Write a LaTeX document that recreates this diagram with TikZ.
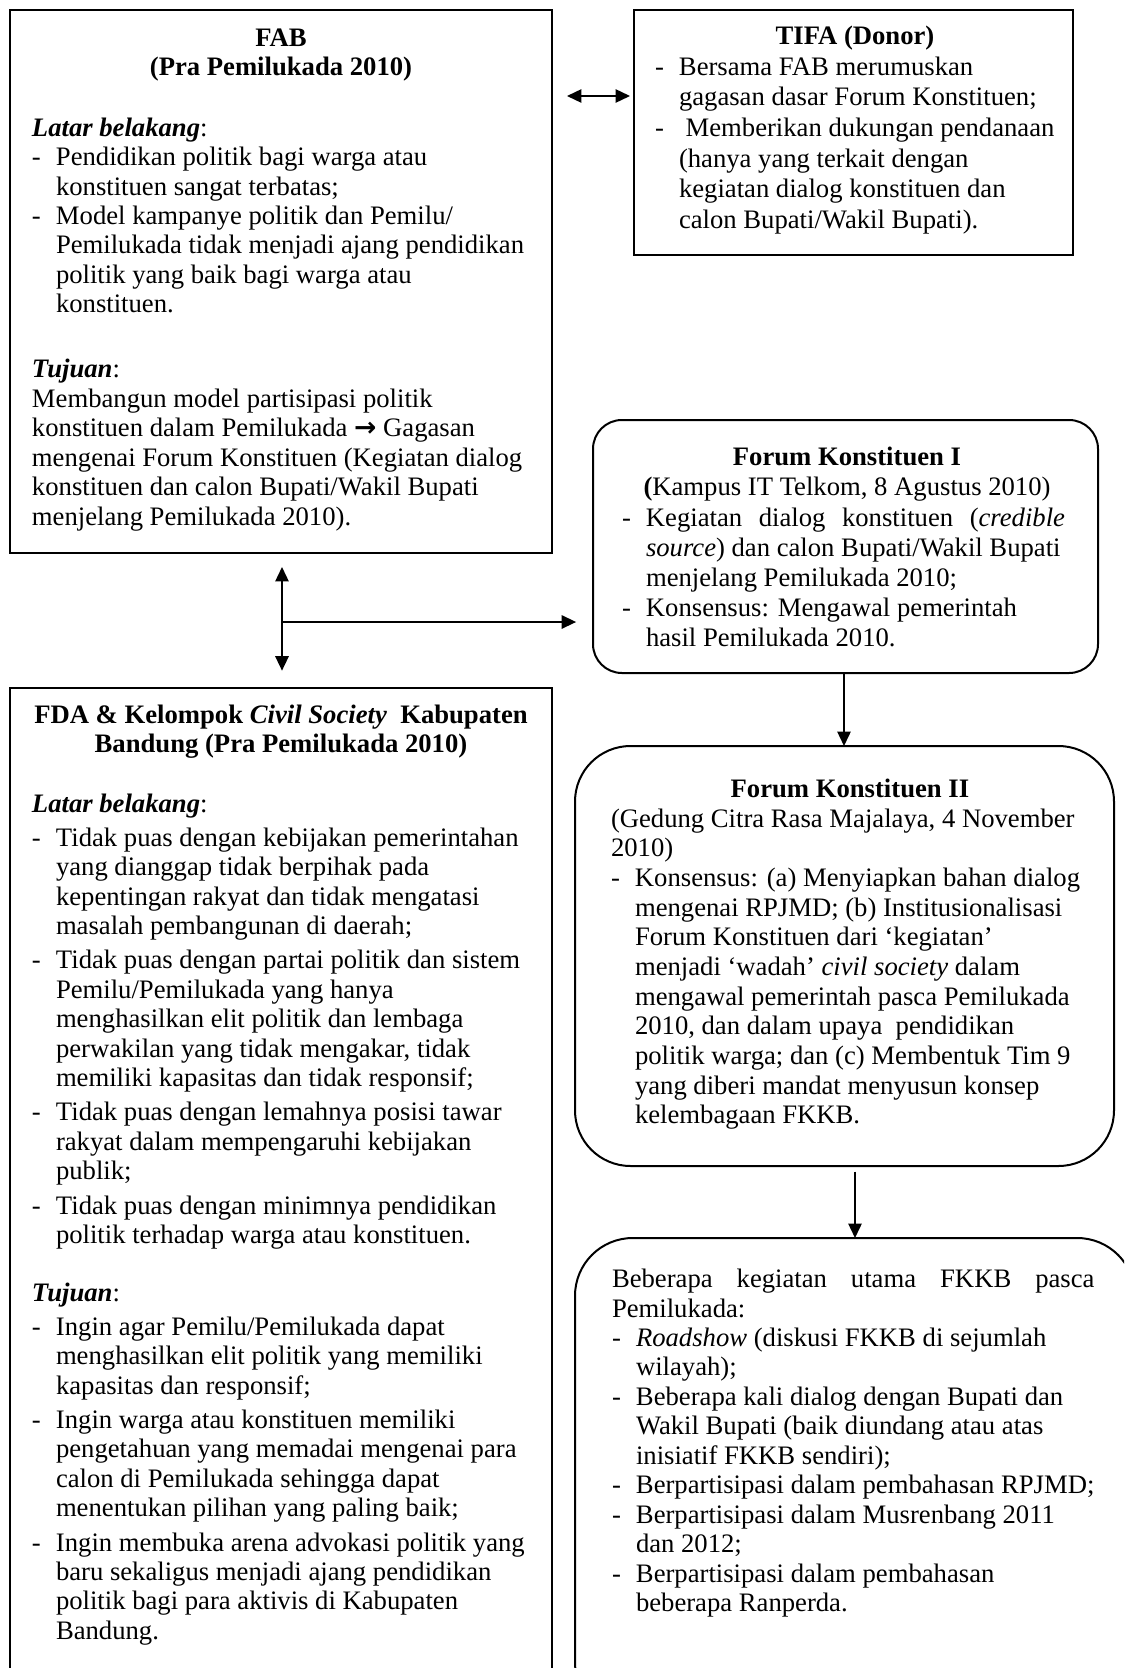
\documentclass[tikz,border=0pt]{standalone}
\usepackage{fontspec}
\setmainfont{Liberation Serif}
\newfontfamily\symfont{DejaVu Sans}
\usetikzlibrary{arrows.meta,fit}

% width of the dash column in the bullet lists
\newlength\dashw \setlength\dashw{10.8pt}
\newlength\jw
% one line of text: centred, left, bullet, continuation
\newcommand\lnC[1]{\hbox to\hsize{\hss\strut#1\hss}}
\newcommand\lnL[1]{\hbox to\hsize{\strut#1\hss}}
\newcommand\lnI[1]{\hbox to\hsize{\strut\hbox to\dashw{-\hss}#1\hss}}
\newcommand\lnB[1]{\hbox to\hsize{\strut\kern\dashw#1\hss}}
% justified bullet line / justified plain line of width \jw
\newcommand\lnIJ[1]{\hbox{\strut\hbox to\dashw{-\hss}\hbox to\jw{#1}}}
\newcommand\lnJ[1]{\hbox{\strut\hbox to\jw{#1}}}
% a block of lines: [line distance]{width}{lines}
\newcommand\txtblock[3][13.25pt]{\vbox{\hsize=#2\relax\fontsize{12}{#1}\selectfont#3}}
\newcommand\bitem[1]{\textbf{\textit{#1}}}

\begin{document}
\begin{tikzpicture}[x=0.45pt,y=-0.45pt,
  >={Triangle[length=6.5pt,width=6pt]},
  frame/.style={draw=black,line width=0.9pt,inner sep=0pt,outer sep=0pt},
  roundframe/.style={frame,rounded corners=#1},
  txt/.style={anchor=north west,inner sep=0pt,outer sep=0pt,text=black},
  link/.style={draw=black,line width=0.8pt}]
\useasboundingbox (0,0) rectangle (1124,1668);
\fill[white] (0,0) rectangle (1124,1668);
\clip (0,0) rectangle (1124,1668);

% boxes
\node[frame,fit={(10,10) (552,553)}] (fab) {};
\node[frame,fit={(634,10) (1073,255)}] (tifa) {};
\node[roundframe=13pt,fit={(593,420) (1098,673)}] (fk1) {};
\node[roundframe=25pt,fit={(575,746) (1114,1166)}] (fk2) {};
\node[roundframe=26pt,fit={(575,1238) (1135,1720)}] (post) {};
\node[frame,fit={(10,688) (552,1720)}] (fda) {};

% texts
\node[txt] (tfab) at (32,25.5) {\txtblock{224.1pt}{%
\lnC{\textbf{FAB}}
\lnC{\textbf{(Pra Pemilukada 2010)}}
\vskip 14pt
\lnL{\bitem{Latar belakang}:}
\lnI{Pendidikan politik bagi warga atau}
\lnB{konstituen sangat terbatas;}
\lnI{Model kampanye politik dan Pemilu/}
\lnB{Pemilukada tidak menjadi ajang pendidikan}
\lnB{politik yang baik bagi warga atau}
\lnB{konstituen.}
\vskip 16pt
\lnL{\bitem{Tujuan}:}
\lnL{Membangun model partisipasi politik}
\lnL{konstituen dalam Pemilukada {\symfont\bfseries →} Gagasan}
\lnL{mengenai Forum Konstituen (Kegiatan dialog}
\lnL{konstituen dan calon Bupati/Wakil Bupati}
\lnL{menjelang Pemilukada 2010).}
}};

\node[txt] (ttifa) at (655,23) {\txtblock[13.8pt]{180pt}{%
\lnC{\textbf{TIFA (Donor)}}
\lnI{Bersama FAB merumuskan}
\lnB{gagasan dasar Forum Konstituen;}
\lnI{\ Memberikan dukungan pendanaan}
\lnB{(hanya yang terkait dengan}
\lnB{kegiatan dialog konstituen dan}
\lnB{calon Bupati/Wakil Bupati).}
}};

\node[txt] (tfk1) at (622,444.4) {\txtblock[13.6pt]{202.5pt}{%
\settowidth\jw{\textit{source}) dan calon Bupati/Wakil Bupati}
\addtolength\jw{2pt}
\lnC{\textbf{Forum Konstituen I}}
\lnC{\textbf{(}Kampus IT Telkom, 8 Agustus 2010)}
\lnIJ{Kegiatan dialog konstituen (\textit{credible}}
\lnB{\textit{source}) dan calon Bupati/Wakil Bupati}
\lnB{menjelang Pemilukada 2010;}
\lnI{Konsensus: Mengawal pemerintah}
\lnB{hasil Pemilukada 2010.}
}};

\node[txt] (tfk2) at (611,776.8) {\txtblock[13.35pt]{215pt}{%
\lnC{\textbf{Forum Konstituen II}}
\lnL{(Gedung Citra Rasa Majalaya, 4 November}
\lnL{2010)}
\lnI{Konsensus: (a) Menyiapkan bahan dialog}
\lnB{mengenai RPJMD; (b) Institusionalisasi}
\lnB{Forum Konstituen dari ‘kegiatan’}
\lnB{menjadi ‘wadah’ \textit{civil society} dalam}
\lnB{mengawal pemerintah pasca Pemilukada}
\lnB{2010, dan dalam upaya\ \ pendidikan}
\lnB{politik warga; dan (c) Membentuk Tim 9}
\lnB{yang diberi mandat menyusun konsep}
\lnB{kelembagaan FKKB.}
}};

\node[txt] (tpost) at (612,1267) {\txtblock{230pt}{%
\settowidth\jw{Berpartisipasi dalam pembahasan RPJMD;}
\addtolength\jw{\dashw}
\lnJ{Beberapa kegiatan utama FKKB pasca}
\lnL{Pemilukada:}
\lnI{\textit{Roadshow} (diskusi FKKB di sejumlah}
\lnB{wilayah);}
\lnI{Beberapa kali dialog dengan Bupati dan}
\lnB{Wakil Bupati (baik diundang atau atas}
\lnB{inisiatif FKKB sendiri);}
\lnI{Berpartisipasi dalam pembahasan RPJMD;}
\lnI{Berpartisipasi dalam Musrenbang 2011}
\lnB{dan 2012;}
\lnI{Berpartisipasi dalam pembahasan}
\lnB{beberapa Ranperda.}
}};

\node[txt] (tfda) at (32,702.5) {\txtblock{224.1pt}{%
\lnC{\textbf{FDA \& Kelompok \textit{Civil Society}\ \ Kabupaten}}
\lnC{\textbf{Bandung (Pra Pemilukada 2010)}}
\vskip 13.8pt
\lnL{\bitem{Latar belakang}:}
\vskip 1.8pt
\lnI{Tidak puas dengan kebijakan pemerintahan}
\lnB{yang dianggap tidak berpihak pada}
\lnB{kepentingan rakyat dan tidak mengatasi}
\lnB{masalah pembangunan di daerah;}
\vskip 2.2pt
\lnI{Tidak puas dengan partai politik dan sistem}
\lnB{Pemilu/Pemilukada yang hanya}
\lnB{menghasilkan elit politik dan lembaga}
\lnB{perwakilan yang tidak mengakar, tidak}
\lnB{memiliki kapasitas dan tidak responsif;}
\vskip 2.2pt
\lnI{Tidak puas dengan lemahnya posisi tawar}
\lnB{rakyat dalam mempengaruhi kebijakan}
\lnB{publik;}
\vskip 2.2pt
\lnI{Tidak puas dengan minimnya pendidikan}
\lnB{politik terhadap warga atau konstituen.}
\vskip 12.9pt
\lnL{\bitem{Tujuan}:}
\vskip 1.8pt
\lnI{Ingin agar Pemilu/Pemilukada dapat}
\lnB{menghasilkan elit politik yang memiliki}
\lnB{kapasitas dan responsif;}
\vskip 2.2pt
\lnI{Ingin warga atau konstituen memiliki}
\lnB{pengetahuan yang memadai mengenai para}
\lnB{calon di Pemilukada sehingga dapat}
\lnB{menentukan pilihan yang paling baik;}
\vskip 2.2pt
\lnI{Ingin membuka arena advokasi politik yang}
\lnB{baru sekaligus menjadi ajang pendidikan}
\lnB{politik bagi para aktivis di Kabupaten}
\lnB{Bandung.}
}};

% connectors
\coordinate (hrow) at (0,96);
\coordinate (vcol) at (282,0);
\coordinate (junc) at (282,622);
\coordinate (col1) at (844,0);
\coordinate (col2) at (855,0);
\draw[link,<->,shorten <=6.75pt,shorten >=1.8pt] (fab.east |- hrow) -- (tifa.west |- hrow);
\draw[link,<->,shorten <=6.3pt,shorten >=7.8pt] (fab.south -| vcol) -- (fda.north -| vcol);
\draw[link,->,shorten >=7.6pt] (junc) -- (fk1.west |- junc);
\draw[link,->] (fk1.south -| col1) -- (fk2.north -| col1);
\draw[link,->,shorten <=2.5pt] (fk2.south -| col2) -- (post.north -| col2);
\end{tikzpicture}
\end{document}
